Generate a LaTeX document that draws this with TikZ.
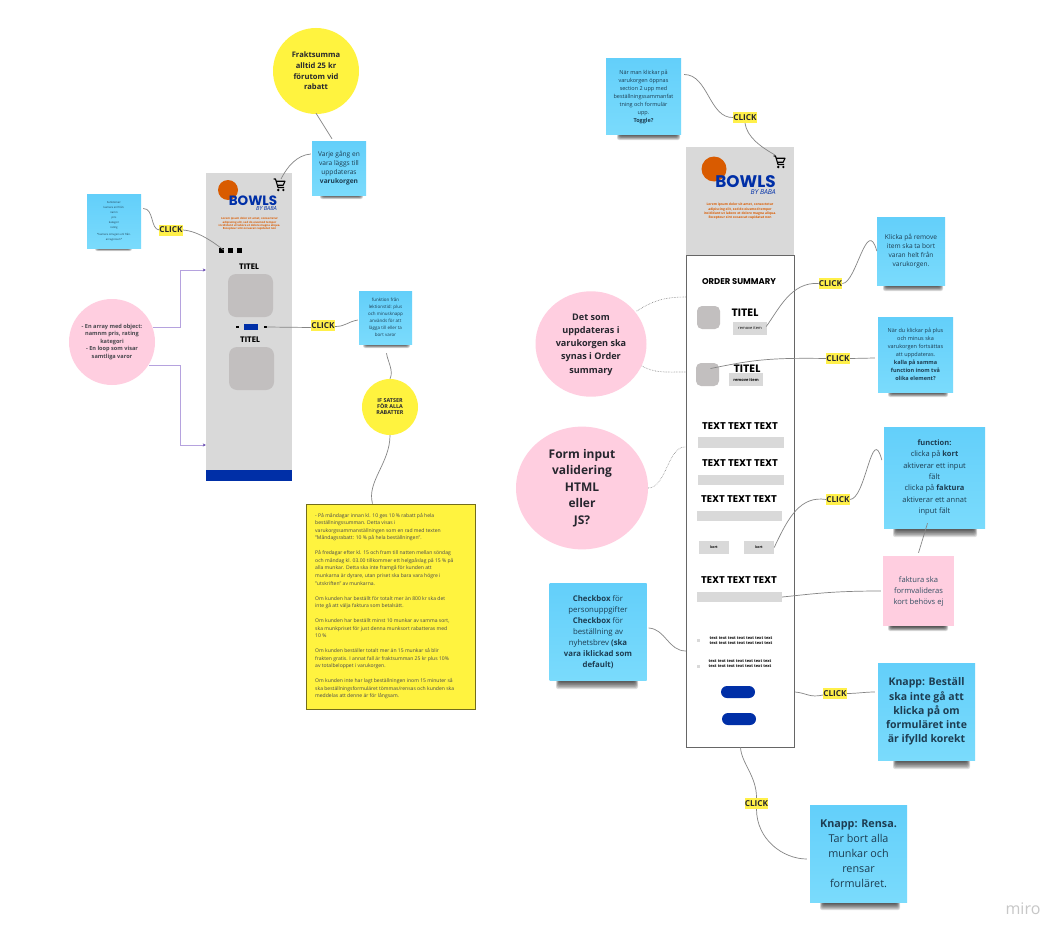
\documentclass[tikz,border=0pt]{standalone}
\usepackage{fontspec}
\setmainfont{Open Sans}
\newfontfamily\poppinsf{Poppins}
\usetikzlibrary{arrows.meta,calc}
\definecolor{skyA}{HTML}{63CFFA}
\definecolor{skyB}{HTML}{7ADBFC}
\definecolor{inkblue}{HTML}{1D3D52}
\definecolor{pinkS}{HTML}{FFCEE0}
\definecolor{yellowS}{HTML}{FFF33F}
\definecolor{clickY}{HTML}{FFF04A}
\definecolor{phoneG}{HTML}{D9D9D9}
\definecolor{thumbG}{HTML}{C2BFBF}
\definecolor{brandB}{HTML}{002FA7}
\definecolor{brandO}{HTML}{D95B00}
\definecolor{lineG}{HTML}{858585}
\definecolor{lav}{HTML}{B5A2DE}
\definecolor{lavD}{HTML}{6A4FB0}
\definecolor{inkdark}{HTML}{26262E}
\tikzset{
  x=1pt,y=-1pt,
  conn/.style={draw=lineG,line width=0.7pt},
  dotconn/.style={draw=lineG,line width=0.6pt,densely dotted},
  purp/.style={draw=lav,line width=0.8pt,-{Stealth[length=3pt,width=3pt,color=lavD]}},
  stickybox/.style={minimum width=#1,minimum height=#1,inner sep=3pt,align=center,
     top color=skyA,bottom color=skyB,text=inkblue},
  clicktag/.style={fill=clickY,minimum width=22.5pt,minimum height=11pt,inner sep=0pt,
     font=\fontsize{8.2}{9}\selectfont\bfseries,text=inkdark},
  phone/.style={fill=phoneG,inner sep=0pt},
  thumb/.style={fill=thumbG,rounded corners=8pt,inner sep=0pt},
  bartag/.style={fill=phoneG,inner sep=0pt},
  pill/.style={fill=brandB,rounded corners=6pt,inner sep=0pt},
  sq/.style={fill=black,minimum size=5pt,inner sep=0pt},
  heading/.style={font=\poppinsf\fontsize{9.8}{10}\selectfont\bfseries,text=black,inner sep=0pt},
  titel/.style={font=\poppinsf\fontsize{8}{9}\selectfont\bfseries,text=black,inner sep=0pt},
  itemtitel/.style={font=\poppinsf\fontsize{10.7}{11}\selectfont\bfseries,text=black,inner sep=0pt},
  pics/carticon/.style={code={
    \draw[black,line width=1.1pt,line join=round] (-5.5,-6) -- (-3.5,-6) -- (-1,2.5) -- (5,2.5);
    \draw[black,line width=1.1pt,line join=round] (-2.8,-3.8) -- (6,-3.8) -- (4.2,0.2) -- (-1.5,0.2);
    \fill[black] (-0.8,5) circle (1.3pt) (4.4,5) circle (1.3pt);
  }}
}
% x1, x2, bottom edge of the note, depth of the shadow
\newcommand{\softshadow}[4]{%
  \foreach \k in {0,1,...,7}{
    \fill[black,opacity=0.13,rounded corners=2pt] ({#1+\k*0.5},{#3-3}) rectangle ({#2-\k*0.5},{#3+#4*(1-\k/8)});
  }}
\begin{document}
\begin{tikzpicture}
\useasboundingbox (0,0) rectangle (1064,939);
\fill[white] (0,0) rectangle (1064,939);

% --- left phone
\node[phone,minimum width=86pt,minimum height=297pt] (phoneL) at (249,321.5) {};
\node[fill=brandB,minimum width=86pt,minimum height=11pt,inner sep=0pt] (footL) at (249,475.5) {};
\fill[brandO] (228,190) circle (10pt);
\node[inner sep=0pt,text=brandB,font=\poppinsf\fontsize{13.5}{13.5}\selectfont\bfseries] (bowlsL) at (253,200.5) {BOWLS};
\node[anchor=east,inner sep=0pt,text=brandB,font=\fontsize{5.6}{6}\selectfont\itshape] (byL) at (277,208.5) {BY BABA};
\node[inner sep=0pt,align=center,text=brandO,font=\fontsize{2.8}{3.3}\selectfont\bfseries] (loremL) at (249.5,224) {Lorem ipsum dolor sit amet, consectetur\\adipiscing elit, sed do eiusmod tempor\\incididunt ut labore et dolore magna aliqua.\\Excepteur sint occaecat cupidatat non};
\coordinate (cartL) at (279,185);
\pic at (cartL) {carticon};
\node[sq] (sq1) at (221,250) {};
\node[sq] (sq2) at (230,250) {};
\node[sq] (sq3) at (239,250) {};
\node[titel] (titelA) at (249,267) {TITEL};
\node[thumb,minimum width=45pt,minimum height=43pt] (thumbA) at (250.5,295.5) {};
\node[fill=black,minimum width=3pt,minimum height=2pt,inner sep=0pt] (minusL) at (237,327) {};
\node[fill=brandB,minimum width=14pt,minimum height=6pt,inner sep=0pt] (qtyL) at (251,327) {};
\node[fill=black,minimum width=3pt,minimum height=2pt,inner sep=0pt] (plusL) at (265,327) {};
\node[titel] (titelB) at (250,340) {TITEL};
\node[thumb,minimum width=45pt,minimum height=43pt] (thumbB) at (251.5,368.5) {};

% --- left notes
\node[circle,fill=yellowS,minimum size=86pt,inner sep=0pt,align=center,text=inkdark,font=\fontsize{7.6}{10.6}\selectfont\bfseries] (frakt) at (316,71) {Fraktsumma\\alltid 25 kr\\förutom vid\\rabatt};
\softshadow{320}{363}{195}{4}
\node[stickybox=54pt,font=\fontsize{6.6}{9.2}\selectfont] (varje) at (339,168) {Varje gång en\\vara läggs till\\uppdateras\\\textbf{varukorgen}};
\softshadow{95}{132}{248}{3}
\node[stickybox=54pt,font=\fontsize{2.7}{5}\selectfont] (funk) at (114,221.5) {Funktioner:\\kamera enl från:\\namn\\pris\\kategori\\rating\\[2pt]*kamera omvgers enl från.\\arraypicsen*};
\node[clicktag] (clickA) at (171,230) {CLICK};
\node[circle,fill=pinkS,minimum size=86pt,inner sep=0pt,align=center,text=inkdark!85,font=\fontsize{5.6}{7.5}\selectfont\bfseries] (arr) at (112,342) {- En array med object:\\namnm pris, rating\\kategori\\- En loop som visar\\samtliga varor};
\node[clicktag] (clickB) at (323,325.5) {CLICK};
\softshadow{363}{410}{344}{4}
\node[stickybox=53pt,font=\fontsize{4.5}{7}\selectfont] (lek) at (385.5,317.5) {funktion från\\lektionstid: plus\\och minusknapp\\används för att\\lägga till eller ta\\bort varor};
\node[circle,fill=yellowS,minimum size=56pt,inner sep=0pt,align=center,text=inkdark,font=\fontsize{5.4}{6}\selectfont\bfseries] (ifs) at (390,407) {IF SATSER\\FÖR ALLA\\RABATTER};
\node[draw=black!55!yellowS,line width=0.8pt,fill=yellowS,minimum width=169pt,minimum height=205pt,inner sep=0pt] (regler) at (390.5,606.5) {};
\node[anchor=north west,inner sep=0pt,align=left,text=inkdark!85,font=\fontsize{5.05}{7.52}\selectfont] (reglertxt) at (315,513) {- På måndagar innan kl. 10 ges 10 \% rabatt på hela\\beställningssumman. Detta visas i\\varukorgssammanställningen som en rad med texten\\"Måndagsrabatt: 10 \% på hela beställningen".\\[7.52pt]På fredagar efter kl. 15 och fram till natten mellan söndag\\och måndag kl. 03.00 tillkommer ett helgpåslag på 15 \% på\\alla munkar. Detta ska inte framgå för kunden att\\munkarna är dyrare, utan priset ska bara vara högre i\\"utskriften" av munkarna.\\[7.52pt]Om kunden har beställt för totalt mer än 800 kr ska det\\inte gå att välja faktura som betalsätt.\\[7.52pt]Om kunden har beställt minst 10 munkar av samma sort,\\ska munkpriset för just denna munksort rabatteras med\\10 \%\\[7.52pt]Om kunden beställer totalt mer än 15 munkar så blir\\frakten gratis. I annat fall är fraktsumman 25 kr plus 10\%\\av totalbeloppet i varukorgen.\\[7.52pt]Om kunden inte har lagt beställningen inom 15 minuter så\\ska beställningsformuläret tömmas/rensas och kunden ska\\meddelas att denne är för långsam.};

% --- left connectors
\draw[conn] ([shift={(0,-1)}]frakt.south) -- ([shift={(-7,-2)}]varje.north);
\draw[conn] ([shift={(-1,-14)}]varje.west) .. controls +(-14,1) and +(6,-12) .. ([shift={(2,-6)}]cartL);
\draw[conn] ([shift={(2,-13)}]funk.east) .. controls +(11,0) and +(-9,-1) .. (clickA.west);
\draw[conn] (clickA.east) .. controls +(16,1) and +(-8,-6) .. (sq1.east);
\draw[conn] (plusL.east) -- ([shift={(0,2)}]clickB.west);
\draw[conn] ([shift={(0,1)}]clickB.east) .. controls +(11,0) and +(-11,2) .. ([shift={(-1,2.5)}]lek.west);
\draw[conn] ([shift={(1,9)}]lek.south) .. controls +(1,8) and +(4,-8) .. (ifs.north);
\draw[conn] (ifs.south) .. controls +(0,28) and +(-6,-22) .. ([shift={(-18,0)}]regler.north);
\draw[purp] ([shift={(-2,-15)}]arr.east) -- ++(27,0) |- ([shift={(0,-51.5)}]phoneL.west);
\draw[purp] ([shift={(-6,23)}]arr.east) -- ++(31,0) |- ([shift={(0,123.5)}]phoneL.west);

% --- right header
\node[phone,minimum width=108pt,minimum height=108pt] (head) at (740,201) {};
\fill[brandO] (714,169) circle (12.5pt);
\node[inner sep=0pt,text=brandB,font=\poppinsf\fontsize{16.8}{16.8}\selectfont\bfseries] (bowlsR) at (745.5,182) {BOWLS};
\node[anchor=east,inner sep=0pt,text=brandB,font=\fontsize{6.8}{7}\selectfont\itshape] (byR) at (776,192) {BY BABA};
\node[inner sep=0pt,align=center,text=brandO,font=\fontsize{3.3}{4.3}\selectfont\bfseries] (loremR) at (740,211.5) {Lorem ipsum dolor sit amet, consectetur\\adipiscing elit, sed do eiusmod tempor\\incididunt ut labore et dolore magna aliqua.\\Excepteur sint occaecat cupidatat non};
\coordinate (cartR) at (779,162);
\pic at (cartR) {carticon};

% --- order form
\node[draw=black!60,line width=0.9pt,fill=white,minimum width=108pt,minimum height=492pt,inner sep=0pt] (form) at (740.5,501) {};
\node[inner sep=0pt,text=black,font=\poppinsf\fontsize{8.4}{9}\selectfont\bfseries] (ordersum) at (739,282) {ORDER SUMMARY};
\node[thumb,minimum width=23pt,minimum height=23pt,rounded corners=5pt] (itemA) at (708.5,317.5) {};
\node[itemtitel] (itemAt) at (745,313) {TITEL};
\node[bartag,minimum width=34pt,minimum height=13pt,font=\fontsize{4}{5}\selectfont] (removeA) at (750,328.5) {remove item};
\node[thumb,minimum width=23pt,minimum height=23pt,rounded corners=5pt] (itemB) at (707.5,374.5) {};
\node[itemtitel] (itemBt) at (747,369) {TITEL};
\node[bartag,minimum width=34pt,minimum height=13pt,font=\fontsize{4}{5}\selectfont\bfseries] (removeB) at (746,379.5) {remove item};
\node[heading] (h1) at (740,426) {TEXT TEXT TEXT};
\node[bartag,minimum width=86pt,minimum height=10.5pt] (b1) at (741,442.5) {};
\node[heading] (h2) at (740,463) {TEXT TEXT TEXT};
\node[bartag,minimum width=86pt,minimum height=10.5pt] (b2) at (741,480) {};
\node[heading] (h3) at (739,499) {TEXT TEXT TEXT};
\node[bartag,minimum width=85pt,minimum height=10.5pt] (b3) at (739.5,516) {};
\node[bartag,minimum width=30pt,minimum height=13pt,font=\fontsize{3.5}{4}\selectfont\bfseries] (kort1) at (714,547.5) {kort};
\node[bartag,minimum width=30pt,minimum height=13pt,font=\fontsize{3.5}{4}\selectfont\bfseries] (kort2) at (759,547.5) {kort};
\node[heading] (h4) at (739,580) {TEXT TEXT TEXT};
\node[bartag,minimum width=85pt,minimum height=10.5pt] (b4) at (739.5,597) {};
\node[bartag,minimum size=3pt] (cb1) at (698,640) {};
\node[inner sep=0pt,align=center,font=\fontsize{4}{5}\selectfont\bfseries] (cbt1) at (741,640.5) {text text text text text text text\\text text text text text text text};
\node[bartag,minimum size=3pt] (cb2) at (698,666) {};
\node[inner sep=0pt,align=center,font=\fontsize{4}{5}\selectfont\bfseries] (cbt2) at (740,664) {text text text text text text text\\text text text text text text text};
\node[pill,minimum width=34pt,minimum height=12pt] (btnA) at (738,692) {};
\node[pill,minimum width=34pt,minimum height=12pt] (btnB) at (739,719) {};

% --- right notes
\softshadow{617}{680}{134}{6}
\node[stickybox=75pt,font=\fontsize{5.5}{8}\selectfont] (toggle) at (643.5,96.5) {När man klickar på\\varukorgen öppnas\\section 2 upp med\\beställningssammanfat\\tning och formulär\\upp.\\\textbf{Toggle?}};
\node[clicktag] (clickC) at (745,117.5) {CLICK};
\softshadow{883}{943}{285}{6}
\node[stickybox=68pt,font=\fontsize{6.6}{9.2}\selectfont] (klicka) at (911,251) {Klicka på remove\\item ska ta bort\\varan helt från\\varukorgen.};
\node[clicktag] (clickD) at (830.5,283.5) {CLICK};
\softshadow{888}{948}{392}{5}
\node[stickybox=75pt,font=\fontsize{5.5}{8}\selectfont] (nar) at (915.5,354.5) {När du klickar på plus\\och minus ska\\varukorgen fortsättas\\att uppdateras.\\\textbf{kalla på samma}\\\textbf{function inom två}\\\textbf{olika element?}};
\node[clicktag] (clickE) at (838,358.5) {CLICK};
\softshadow{893}{977}{528}{9}
\node[stickybox=101pt,font=\fontsize{7.5}{11.4}\selectfont] (func) at (934.5,477.5) {\textbf{function:}\\clicka på \textbf{kort}\\aktiverar ett input\\fält\\clicka på \textbf{faktura}\\aktiverar ett annat\\input fält};
\node[clicktag] (clickF) at (838,499.5) {CLICK};
\softshadow{888}{948}{626}{5}
\node[fill=pinkS,minimum width=71pt,minimum height=70pt,inner sep=0pt,align=center,text=inkblue!90,font=\fontsize{7.6}{11}\selectfont] (faktura) at (918.5,591) {faktura ska\\formvalideras\\kort behövs ej};
\softshadow{556}{638}{680}{9}
\node[stickybox=97pt,font=\fontsize{7.8}{11.1}\selectfont] (check) at (598,632) {\textbf{Checkbox} för\\personuppgifter\\\textbf{Checkbox} för\\beställning av\\nyhetsbrev \textbf{(ska}\\\textbf{vara iklickad som}\\\textbf{default)}};
\node[clicktag] (clickG) at (835,693.5) {CLICK};
\softshadow{893}{970}{760}{9}
\node[stickybox=97pt,font=\fontsize{10.5}{14.2}\selectfont\bfseries] (best) at (926.5,711.5) {Knapp: Beställ\\ska inte gå att\\klicka på om\\formuläret inte\\är ifylld korekt};
\node[clicktag] (clickH) at (756.5,803.5) {CLICK};
\softshadow{820}{900}{902}{8}
\node[stickybox=97pt,font=\fontsize{10.8}{15}\selectfont] (rensa) at (858.5,853.5) {\textbf{Knapp: Rensa.}\\Tar bort alla\\munkar och\\rensar\\formuläret.};
\node[circle,fill=pinkS,inner sep=0pt,minimum size=111pt,yscale=0.95,align=center] (pinkA) at (591,344) {};
\node[inner sep=0pt,align=center,text=inkdark,font=\fontsize{9.1}{13.3}\selectfont\bfseries] (pinkAt) at (591,344.5) {Det som\\uppdateras i\\varukorgen ska\\synas i Order\\summary};
\node[circle,fill=pinkS,inner sep=0pt,minimum size=132pt,yscale=0.93] (pinkB) at (582,488) {};
\node[inner sep=0pt,align=center,text=inkdark,font=\fontsize{12}{16.5}\selectfont\bfseries] (pinkBt) at (582,488) {Form input\\validering\\HTML\\eller\\JS?};
\node[inner sep=0pt,text=black!22,font=\fontsize{16}{16}\selectfont] (miro) at (1023,909) {miro};

% --- right connectors
\draw[conn] ([shift={(3,-22)}]toggle.east) .. controls +(24,0) and +(-24,1) .. (clickC.west);
\draw[conn] (clickC.south) .. controls +(2,14) and +(-14,-8) .. ([shift={(-4,-7)}]cartR);
\draw[conn] ([shift={(-1,-2)}]removeA.east) .. controls +(12,-16) and +(-28,-2) .. (clickD.west);
\draw[conn] (clickD.east) .. controls +(14,0) and +(-10,-36) .. (klicka.west);
\draw[conn] ([shift={(3,-6)}]itemB.center) .. controls +(40,-8) and +(-60,-1) .. (clickE.west);
\draw[conn] (clickE.east) -- ([shift={(-3,3.5)}]nar.west);
\draw[conn] (kort2.east) .. controls +(14,-30) and +(-26,-4) .. (clickF.west);
\draw[conn] (clickF.east) .. controls +(16,0) and +(-10,-38) .. ([shift={(-2,-17.5)}]func.west);
\draw[conn] ([shift={(-7,-5)}]func.south) -- ([shift={(0,-3)}]faktura.north);
\draw[conn] (b4.east) .. controls +(30,-3) and +(-50,0) .. ([shift={(-2,0)}]faktura.west);
\draw[conn] ([shift={(2,-4)}]check.east) .. controls +(17,1) and +(-18,0) .. ([shift={(0,150)}]form.west);
\draw[conn] ([shift={(0,191)}]form.east) .. controls +(12,1) and +(-14,3) .. ([shift={(0,1.5)}]clickG.west);
\draw[conn] (clickG.east) .. controls +(10,0) and +(-10,0) .. ([shift={(-3,-19.5)}]best.west);
\draw[conn] (form.south) .. controls +(1,16) and +(0,-22) .. (clickH.north);
\draw[conn] (clickH.south) .. controls +(0,30) and +(-24,0) .. ([shift={(-3,5.5)}]rensa.west);
\draw[dotconn] ([shift={(-10,-33)}]pinkA.east) .. controls +(15,-9) and +(-25,0) .. ([shift={(0,-204)}]form.west);
\draw[dotconn] ([shift={(-5,22)}]pinkA.east) .. controls +(14,7) and +(-25,0) .. ([shift={(0,-129)}]form.west);
\draw[dotconn] (pinkB.east) .. controls +(18,0) and +(-18,-2) .. ([shift={(0,-54)}]form.west);
\end{tikzpicture}
\end{document}
